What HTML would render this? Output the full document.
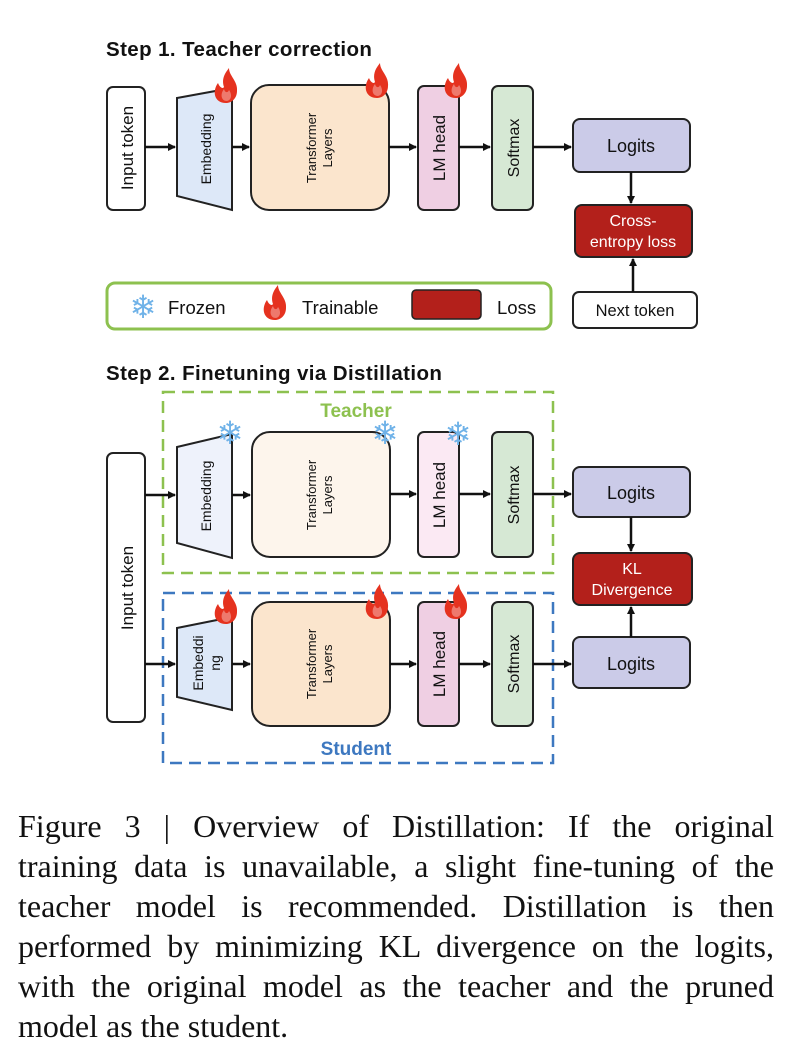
<!DOCTYPE html>
<html><head><meta charset="utf-8"><style>
html,body{margin:0;padding:0;background:#fff;}
body{width:792px;height:1064px;position:relative;overflow:hidden;}
svg{position:absolute;left:0;top:0;}
.cap{position:absolute;left:18px;width:756px;font-family:"Liberation Serif",serif;font-size:32px;color:#111;text-align:justify;text-align-last:justify;white-space:nowrap;line-height:40px;}
</style></head><body>
<svg width="792" height="790" viewBox="0 0 792 790" font-family="Liberation Sans, sans-serif">
<defs>
<marker id="ar" markerWidth="8" markerHeight="8" refX="7" refY="4" orient="auto" markerUnits="userSpaceOnUse"><path d="M0,0 L8,4 L0,8 Z" fill="#111"/></marker>
<g id="flame"><path d="M0,17 C-12,17 -14,5 -8,-3 C-6,2 -3,3 -2,1 C-5,-8 0,-14 3,-18 C3,-10 12,-5 11,5 C11,12 6,17 0,17 Z" fill="#e5321f"/><path d="M1,15 C-5,15 -6,8 -2,3 C-1,7 2,7 3,4 C6,8 6,14 1,15 Z" fill="#fff" opacity="0.35"/></g>
</defs>
<text x="106" y="56" font-size="20.5" font-weight="bold" letter-spacing="0.4" fill="#111">Step 1. Teacher correction</text>
<!-- Step1 -->
<rect x="107" y="87" width="38" height="123" rx="6" fill="#fff" stroke="#222" stroke-width="2"/>
<text transform="translate(133,148) rotate(-90)" text-anchor="middle" font-size="17" fill="#111">Input token</text>
<path d="M177,98 L232,88 L232,210 L177,196 Z" fill="#dde8f8" stroke="#222" stroke-width="2"/>
<text transform="translate(211,149) rotate(-90)" text-anchor="middle" font-size="14" fill="#111">Embedding</text>
<rect x="251" y="85" width="138" height="125" rx="18" fill="#fbe5cd" stroke="#222" stroke-width="2"/>
<text transform="translate(316,148) rotate(-90)" text-anchor="middle" font-size="13" fill="#111">Transformer</text>
<text transform="translate(332,148) rotate(-90)" text-anchor="middle" font-size="13" fill="#111">Layers</text>
<rect x="418" y="86" width="41" height="124" rx="6" fill="#efcfe3" stroke="#222" stroke-width="2"/>
<text transform="translate(445,148) rotate(-90)" text-anchor="middle" font-size="17" fill="#111">LM head</text>
<rect x="492" y="86" width="41" height="124" rx="6" fill="#d6e8d4" stroke="#222" stroke-width="2"/>
<text transform="translate(519,148) rotate(-90)" text-anchor="middle" font-size="16" fill="#111">Softmax</text>
<rect x="573" y="119" width="117" height="53" rx="7" fill="#cbcbe8" stroke="#222" stroke-width="2"/>
<text x="631" y="152" text-anchor="middle" font-size="18" fill="#111">Logits</text>
<rect x="575" y="205" width="117" height="52" rx="7" fill="#b3201b" stroke="#222" stroke-width="2"/>
<text x="633" y="226" text-anchor="middle" font-size="16" fill="#fff">Cross-</text>
<text x="633" y="247" text-anchor="middle" font-size="16" fill="#fff">entropy loss</text>
<rect x="573" y="292" width="124" height="36" rx="6" fill="#fff" stroke="#222" stroke-width="2"/>
<text x="635" y="316" text-anchor="middle" font-size="16.5" fill="#111">Next token</text>
<g stroke="#111" stroke-width="2.5" marker-end="url(#ar)">
<line x1="145" y1="147" x2="175" y2="147"/>
<line x1="232" y1="147" x2="249" y2="147"/>
<line x1="389" y1="147" x2="416" y2="147"/>
<line x1="459" y1="147" x2="490" y2="147"/>
<line x1="533" y1="147" x2="571" y2="147"/>
<line x1="631" y1="172" x2="631" y2="203"/>
<line x1="633" y1="292" x2="633" y2="259"/>
</g>
<use href="#flame" x="226" y="86"/>
<use href="#flame" x="377" y="81"/>
<use href="#flame" x="456" y="81"/>
<rect x="107" y="283" width="444" height="46" rx="8" fill="#fff" stroke="#8dc14f" stroke-width="3"/>
<text x="143" y="318" text-anchor="middle" font-size="32" fill="#6fb2e8">❄</text>
<text x="168" y="314" font-size="18.5" fill="#111">Frozen</text>
<use href="#flame" x="275" y="303"/>
<text x="302" y="314" font-size="18.5" fill="#111">Trainable</text>
<rect x="412" y="290" width="69" height="29" rx="4" fill="#b3201b" stroke="#222" stroke-width="1.5"/>
<text x="497" y="314" font-size="18.5" fill="#111">Loss</text>

<!-- Step 2 -->
<text x="106" y="380" font-size="20.5" font-weight="bold" letter-spacing="0.4" fill="#111">Step 2. Finetuning via Distillation</text>
<rect x="163" y="392" width="390" height="181" fill="none" stroke="#8dc14f" stroke-width="2.5" stroke-dasharray="12,7"/>
<text x="356" y="417" text-anchor="middle" font-size="19" font-weight="bold" fill="#8dc14f">Teacher</text>
<rect x="163" y="593" width="390" height="170" fill="none" stroke="#3d78c0" stroke-width="2.5" stroke-dasharray="12,7"/>
<text x="356" y="755" text-anchor="middle" font-size="19" font-weight="bold" fill="#3d78c0">Student</text>
<rect x="107" y="453" width="38" height="269" rx="6" fill="#fff" stroke="#222" stroke-width="2"/>
<text transform="translate(133,588) rotate(-90)" text-anchor="middle" font-size="17" fill="#111">Input token</text>
<!-- teacher -->
<path d="M177,447 L232,434 L232,558 L177,543 Z" fill="#eef2fb" stroke="#222" stroke-width="2"/>
<text transform="translate(211,496) rotate(-90)" text-anchor="middle" font-size="14" fill="#111">Embedding</text>
<rect x="252" y="432" width="138" height="125" rx="18" fill="#fdf5ec" stroke="#222" stroke-width="2"/>
<text transform="translate(316,495) rotate(-90)" text-anchor="middle" font-size="13" fill="#111">Transformer</text>
<text transform="translate(332,495) rotate(-90)" text-anchor="middle" font-size="13" fill="#111">Layers</text>
<rect x="418" y="432" width="41" height="125" rx="6" fill="#fbe9f3" stroke="#222" stroke-width="2"/>
<text transform="translate(445,495) rotate(-90)" text-anchor="middle" font-size="17" fill="#111">LM head</text>
<rect x="492" y="432" width="41" height="125" rx="6" fill="#d6e8d4" stroke="#222" stroke-width="2"/>
<text transform="translate(519,495) rotate(-90)" text-anchor="middle" font-size="16" fill="#111">Softmax</text>
<rect x="573" y="467" width="117" height="50" rx="7" fill="#cbcbe8" stroke="#222" stroke-width="2"/>
<text x="631" y="499" text-anchor="middle" font-size="18" fill="#111">Logits</text>
<rect x="573" y="553" width="119" height="52" rx="7" fill="#b3201b" stroke="#222" stroke-width="2"/>
<text x="632" y="574" text-anchor="middle" font-size="16" fill="#fff">KL</text>
<text x="632" y="595" text-anchor="middle" font-size="16" fill="#fff">Divergence</text>
<text x="230" y="444" text-anchor="middle" font-size="32" fill="#6fb2e8">❄</text>
<text x="385" y="444" text-anchor="middle" font-size="32" fill="#6fb2e8">❄</text>
<text x="458" y="445" text-anchor="middle" font-size="32" fill="#6fb2e8">❄</text>
<!-- student -->
<path d="M177,628 L232,617 L232,710 L177,697 Z" fill="#dde8f8" stroke="#222" stroke-width="2"/>
<text transform="translate(203,663) rotate(-90)" text-anchor="middle" font-size="14" fill="#111">Embeddi</text>
<text transform="translate(220,663) rotate(-90)" text-anchor="middle" font-size="14" fill="#111">ng</text>
<rect x="252" y="602" width="138" height="124" rx="18" fill="#fbe5cd" stroke="#222" stroke-width="2"/>
<text transform="translate(316,664) rotate(-90)" text-anchor="middle" font-size="13" fill="#111">Transformer</text>
<text transform="translate(332,664) rotate(-90)" text-anchor="middle" font-size="13" fill="#111">Layers</text>
<rect x="418" y="602" width="41" height="124" rx="6" fill="#efcfe3" stroke="#222" stroke-width="2"/>
<text transform="translate(445,664) rotate(-90)" text-anchor="middle" font-size="17" fill="#111">LM head</text>
<rect x="492" y="602" width="41" height="124" rx="6" fill="#d6e8d4" stroke="#222" stroke-width="2"/>
<text transform="translate(519,664) rotate(-90)" text-anchor="middle" font-size="16" fill="#111">Softmax</text>
<rect x="573" y="637" width="117" height="51" rx="7" fill="#cbcbe8" stroke="#222" stroke-width="2"/>
<text x="631" y="670" text-anchor="middle" font-size="18" fill="#111">Logits</text>
<use href="#flame" x="226" y="607"/>
<use href="#flame" x="377" y="602"/>
<use href="#flame" x="456" y="602"/>
<g stroke="#111" stroke-width="2.5" marker-end="url(#ar)">
<line x1="145" y1="495" x2="175" y2="495"/>
<line x1="232" y1="495" x2="250" y2="495"/>
<line x1="390" y1="494" x2="416" y2="494"/>
<line x1="459" y1="494" x2="490" y2="494"/>
<line x1="533" y1="494" x2="571" y2="494"/>
<line x1="145" y1="664" x2="175" y2="664"/>
<line x1="232" y1="664" x2="250" y2="664"/>
<line x1="390" y1="664" x2="416" y2="664"/>
<line x1="459" y1="664" x2="490" y2="664"/>
<line x1="533" y1="664" x2="571" y2="664"/>
<line x1="631" y1="517" x2="631" y2="551"/>
<line x1="631" y1="637" x2="631" y2="607"/>
</g>
</svg>
<div class="cap" style="top:806px">Figure 3 | Overview of Distillation: If the original</div>
<div class="cap" style="top:846px">training data is unavailable, a slight fine-tuning of the</div>
<div class="cap" style="top:886px">teacher model is recommended. Distillation is then</div>
<div class="cap" style="top:926px">performed by minimizing KL divergence on the logits,</div>
<div class="cap" style="top:966px">with the original model as the teacher and the pruned</div>
<div class="cap" style="top:1006px;text-align-last:left">model as the student.</div>
</body></html>
